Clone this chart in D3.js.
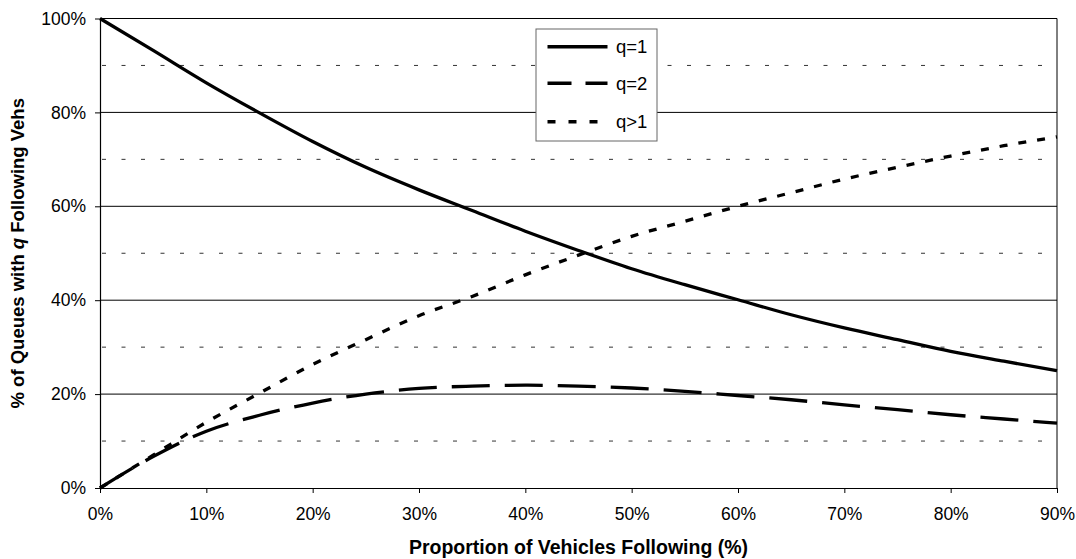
<!DOCTYPE html>
<html>
<head>
<meta charset="utf-8">
<script src="https://cdn.jsdelivr.net/npm/d3@7/dist/d3.min.js"></script>
<style>
  html, body { margin: 0; padding: 0; background: #fff; }
  svg { display: block; font-family: "Liberation Sans", Arial, Helvetica, sans-serif; }
</style>
</head>
<body>
<svg id="chart" width="1076" height="559"></svg>
<script>
// ---- data ----
const proportion = [0, 5, 10, 15, 20, 25, 30, 35, 40, 45, 50, 55, 60, 65, 70, 75, 80, 85, 90];
const q1   = [100, 93.2, 86.3, 79.9, 73.8, 68.3, 63.5, 59.1, 54.7, 50.6, 46.7, 43.3, 40.1, 36.9, 34.1, 31.6, 29.1, 27.0, 25.0];
const q2   = [0, 6.7, 12.1, 15.5, 18.1, 20.0, 21.2, 21.7, 21.9, 21.7, 21.3, 20.6, 19.7, 18.8, 17.7, 16.7, 15.6, 14.7, 13.8];
const qgt1 = [0, 7.0, 14.0, 20.2, 26.3, 31.6, 36.7, 40.8, 45.4, 49.6, 53.6, 56.8, 60.0, 62.9, 65.8, 68.3, 70.7, 72.9, 74.8];
const xTicks = [0, 10, 20, 30, 40, 50, 60, 70, 80, 90];
const yTicks = [0, 20, 40, 60, 80, 100];
const yMinor = [10, 30, 50, 70, 90];
const seriesNames = ["q=1", "q=2", "q>1"];

const series = [
  { name: seriesNames[0], values: q1,   dash: null,    legendDash: null },
  { name: seriesNames[1], values: q2,   dash: "38,15", legendDash: "24,14" },
  { name: seriesNames[2], values: qgt1, dash: "8,11",  legendDash: "8,13" }
];

// ---- layout ----
const W = 1076, H = 559;
const m = { left: 100, right: 19, top: 18.5, bottom: 71 };
const svg = d3.select("#chart");

const x = d3.scaleLinear().domain([0, 90]).range([m.left, W - m.right]);
const y = d3.scaleLinear().domain([0, 100]).range([H - m.bottom, m.top]);

// minor dashed gridlines
svg.append("g").selectAll("line").data(yMinor).join("line")
  .attr("x1", x(0) + 2).attr("x2", x(90) - 12)
  .attr("y1", d => y(d)).attr("y2", d => y(d))
  .attr("stroke", "#333").attr("stroke-width", 1)
  .attr("stroke-dasharray", "4,15.5");

// major solid gridlines
svg.append("g").selectAll("line").data(yTicks.filter(d => d > 0)).join("line")
  .attr("x1", x(0)).attr("x2", x(90))
  .attr("y1", d => y(d)).attr("y2", d => y(d))
  .attr("stroke", "#000").attr("stroke-width", 1);

// right border
svg.append("line")
  .attr("x1", x(90)).attr("x2", x(90))
  .attr("y1", y(0)).attr("y2", y(100))
  .attr("stroke", "#000").attr("stroke-width", 1);

// axes
const fmt = d => d + "%";
const xAxis = svg.append("g")
  .attr("transform", `translate(0,${y(0)})`)
  .call(d3.axisBottom(x).tickValues(xTicks).tickFormat(fmt).tickSize(5).tickPadding(15).tickSizeOuter(0));
const yAxis = svg.append("g")
  .attr("transform", `translate(${x(0)},0)`)
  .call(d3.axisLeft(y).tickValues(yTicks).tickFormat(fmt).tickSize(5).tickPadding(9).tickSizeOuter(0));
[xAxis, yAxis].forEach(g => {
  g.selectAll("text").attr("font-size", "17.5px").attr("fill", "#000")
    .attr("font-family", "'Liberation Sans', Arial, sans-serif");
  g.selectAll("line").attr("stroke", "#000");
  g.select(".domain").attr("stroke", "#000").attr("stroke-width", 1.2);
});

// lines
const line = d3.line()
  .x((d, i) => x(proportion[i]))
  .y(d => y(d))
  .curve(d3.curveMonotoneX);

svg.append("g").selectAll("path").data(series).join("path")
  .attr("d", s => line(s.values))
  .attr("fill", "none")
  .attr("stroke", "#000")
  .attr("stroke-width", 3.3)
  .attr("stroke-dasharray", s => s.dash);

// legend
const lg = svg.append("g");
lg.append("rect")
  .attr("x", 536).attr("y", 29).attr("width", 121).attr("height", 112)
  .attr("fill", "#fff").attr("stroke", "#666").attr("stroke-width", 1);
const rowY = [46.7, 83.3, 121.7];
series.forEach((s, i) => {
  lg.append("line")
    .attr("x1", 547.5).attr("x2", 607.5)
    .attr("y1", rowY[i]).attr("y2", rowY[i])
    .attr("stroke", "#000").attr("stroke-width", 3.6)
    .attr("stroke-dasharray", s.legendDash);
  lg.append("text")
    .attr("x", 616).attr("y", rowY[i]).attr("dy", "0.35em")
    .attr("font-size", "18.5px").text(s.name);
});

// axis titles
svg.append("text")
  .attr("x", (x(0) + x(90)) / 2).attr("y", 554)
  .attr("text-anchor", "middle")
  .attr("font-size", "19.5px").attr("font-weight", "bold")
  .text("Proportion of Vehicles Following (%)");

const yt = svg.append("text")
  .attr("transform", `translate(24,${(y(0) + y(100)) / 2}) rotate(-90)`)
  .attr("text-anchor", "middle")
  .attr("font-size", "18.5px").attr("font-weight", "bold");
yt.append("tspan").text("% of Queues with ");
yt.append("tspan").attr("font-style", "italic").text("q");
yt.append("tspan").text(" Following Vehs");
</script>
</body>
</html>
